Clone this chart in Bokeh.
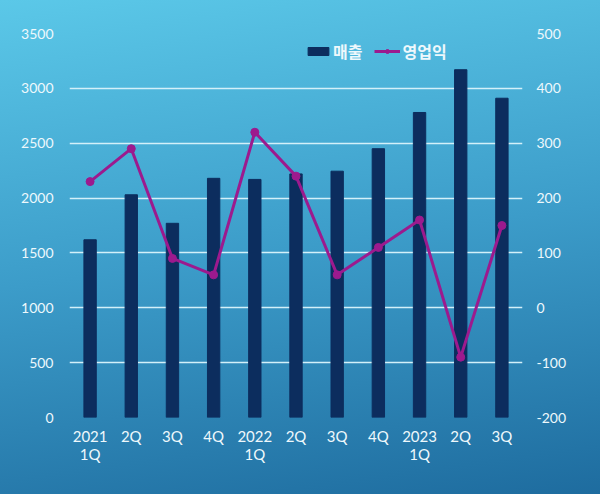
from bokeh.plotting import figure
from bokeh.models import Range1d, LinearAxis, FixedTicker, Legend, LegendItem, ColumnDataSource
from bokeh.embed import file_html
from bokeh.resources import INLINE

quarters = ["2021\n1Q", "2Q", "3Q", "4Q", "2022\n1Q", "2Q", "3Q", "4Q", "2023\n1Q", "2Q", "3Q"]
sales = [1620, 2030, 1770, 2180, 2170, 2220, 2245, 2450, 2780, 3170, 2910]
op_profit = [230, 290, 90, 60, 320, 240, 60, 110, 160, -90, 150]
left_ticks = [0, 500, 1000, 1500, 2000, 2500, 3000, 3500]
right_ticks = [-200, -100, 0, 100, 200, 300, 400, 500]

idx = list(range(len(quarters)))
src = ColumnDataSource(dict(x=idx, sales=sales, op=op_profit))

p = figure(width=600, height=494, output_backend="svg", toolbar_location=None,
           x_range=Range1d(-0.5, len(quarters) - 0.5), y_range=Range1d(0, 3500),
           min_border_left=69, min_border_right=78, min_border_top=33, min_border_bottom=77)
p.extra_y_ranges = {"op": Range1d(-200, 500)}

p.background_fill_alpha = 0
p.border_fill_alpha = 0
p.outline_line_color = None
p.styles = {"background-image": "linear-gradient(172deg, #5bc8e8 0%, #3c9cc9 50%, #1e6c9f 100%)"}

FONT = "Lato"
TXT = "#eef8fc"

bars = p.vbar(x="x", top="sales", width=0.3, source=src, color="#0c2d5e")
ln = p.line(x="x", y="op", source=src, line_color="#9c1a8e", line_width=3, y_range_name="op")
pts = p.scatter(x="x", y="op", source=src, size=8, color="#9c1a8e", y_range_name="op")

p.xgrid.grid_line_color = None
p.ygrid.ticker = FixedTicker(ticks=left_ticks)
p.ygrid.grid_line_color = "#d3f0f9"
p.ygrid.grid_line_width = 1.5


def style_axis(ax, size, standoff):
    ax.axis_line_color = None
    ax.major_tick_line_color = None
    ax.minor_tick_line_color = None
    ax.major_tick_out = 0
    ax.major_tick_in = 0
    ax.minor_tick_out = 0
    ax.minor_tick_in = 0
    ax.major_label_text_font = FONT
    ax.major_label_text_font_size = size
    ax.major_label_text_color = TXT
    ax.major_label_standoff = standoff


xa = p.xaxis[0]
xa.ticker = FixedTicker(ticks=idx)
xa.major_label_overrides = {i: q for i, q in enumerate(quarters)}
style_axis(xa, "15px", 9)
xa.major_label_text_line_height = 1.0

ya = p.yaxis[0]
ya.ticker = FixedTicker(ticks=left_ticks)
style_axis(ya, "14px", 16)

ra = LinearAxis(y_range_name="op", ticker=FixedTicker(ticks=right_ticks))
ra.major_label_overrides = {t: str(t) for t in right_ticks}
style_axis(ra, "14px", 14)
p.add_layout(ra, "right")

legend = Legend(items=[LegendItem(label="매출", renderers=[bars]),
                       LegendItem(label="영업익", renderers=[ln, pts])],
                orientation="horizontal", location=(236, 354),
                background_fill_alpha=0, border_line_color=None,
                label_text_font="Noto Sans CJK KR", label_text_font_style="bold",
                label_text_font_size="16px", label_text_color=TXT,
                glyph_width=26, glyph_height=10, label_standoff=2, spacing=12,
                padding=0, margin=0)
p.add_layout(legend, "center")

open("out.html", "w").write(file_html(p, INLINE))
